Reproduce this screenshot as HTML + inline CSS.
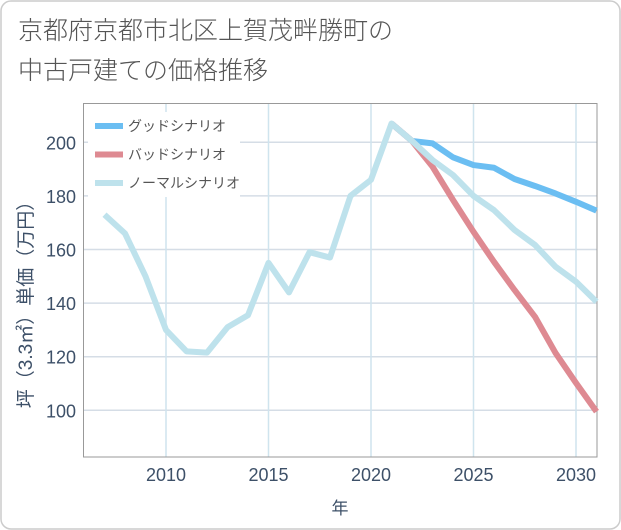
<!DOCTYPE html>
<html><head><meta charset="utf-8"><style>
body{margin:0;background:#fff;}
svg{display:block;font-family:"Liberation Sans","Noto Sans CJK JP",sans-serif;}
</style></head><body>
<svg id="chart" width="621" height="530" viewBox="0 0 621 530" xmlns="http://www.w3.org/2000/svg">
<rect x="1" y="1" width="619" height="528" rx="10" fill="#fff" stroke="#ccc" stroke-width="1.5"/>
<text x="18" y="39" font-size="25" font-weight="300" fill="#555">京都府京都市北区上賀茂畔勝町の</text>
<text x="18" y="79" font-size="25" font-weight="300" fill="#555">中古戸建ての価格推移</text>
<g id="grid"></g>
<rect x="83.5" y="103.5" width="513.5" height="353.5" fill="none" stroke="#999" stroke-width="1"/>
<g id="series"></g>
<g id="axes"></g>
<text transform="translate(32,300) rotate(-90)" text-anchor="middle" font-size="19" fill="#3d5068">坪（3.3㎡）単価（万円）</text>
<text x="340" y="514" text-anchor="middle" font-size="17" fill="#3d5068">年</text>
<g id="legend">
<rect x="88" y="112" width="152" height="85" fill="#fff"/>
</g>
</svg>
<script>
const years=[2007,2008,2009,2010,2011,2012,2013,2014,2015,2016,2017,2018,2019,2020,2021,2022,2023,2024,2025,2026,2027,2028,2029,2030,2031];
const normalValues=[173,166,150,130,122,121.5,131,135.5,155,144,159,157,180,186,207,200.5,193.4,187.8,180,174.7,167.3,161.7,153.6,148,140.5];
const goodYears=[2021,2022,2023,2024,2025,2026,2027,2028,2029,2030,2031];
const goodValues=[207,200.5,199.6,194.4,191.5,190.5,186.3,183.7,180.9,177.8,174.5];
const badValues=[207,200.5,190.9,178.5,166.6,155.4,144.9,134.9,121.4,110.2,99.5];
const yTicks=[100,120,140,160,180,200];
const xTicks=[2010,2015,2020,2025,2030];
const seriesNames=["グッドシナリオ","バッドシナリオ","ノーマルシナリオ"];
const seriesColors=["#6bbef2","#de8a92","#bee2ec"];

const NS="http://www.w3.org/2000/svg";
const xs=y=>104.5+(y-2007)*20.5;
const ys=v=>142.3+(200-v)*2.68;
function mk(tag,attrs,parent){const e=document.createElementNS(NS,tag);for(const k in attrs)e.setAttribute(k,attrs[k]);parent.appendChild(e);return e;}
const grid=document.getElementById('grid'),axes=document.getElementById('axes'),series=document.getElementById('series'),legend=document.getElementById('legend');
yTicks.forEach(v=>{
  const l=mk('line',{x1:84,x2:597,y1:ys(v),y2:ys(v),stroke:'#d5dde6','stroke-width':1.5},grid);
  
  
  const t=mk('text',{x:76,y:ys(v)+7,'text-anchor':'end','font-size':18,fill:'#3d5068'},axes);
  t.textContent=v;
  
  
});
xTicks.forEach(v=>{
  const l=mk('line',{x1:xs(v),x2:xs(v),y1:104,y2:457,stroke:'#cfe4ee','stroke-width':1.5},grid);
  
  
  const t=mk('text',{x:xs(v),y:481,'text-anchor':'middle','font-size':18,fill:'#3d5068'},axes);
  t.textContent=v;
  
  
});
function line(xv,yv,color,name){
  const p=mk('polyline',{points:xv.map((x,i)=>xs(x)+','+ys(yv[i])).join(' '),fill:'none',stroke:color,'stroke-width':6,'stroke-linejoin':'round'},series);
  
  
}
line(goodYears,goodValues,seriesColors[0],'good-scenario-line');
line(goodYears,badValues,seriesColors[1],'bad-scenario-line');
line(years,normalValues,seriesColors[2],'normal-scenario-line');
seriesNames.forEach((n,i)=>{
  const y=126+i*28.5;
  const s=mk('line',{x1:95,x2:123,y1:y,y2:y,stroke:seriesColors[i],'stroke-width':6},legend);
  
  
  const t=mk('text',{x:128,y:y+5,'font-size':14,fill:'#555'},legend);
  t.textContent=n;
  
  
});
</script>
</body></html>
